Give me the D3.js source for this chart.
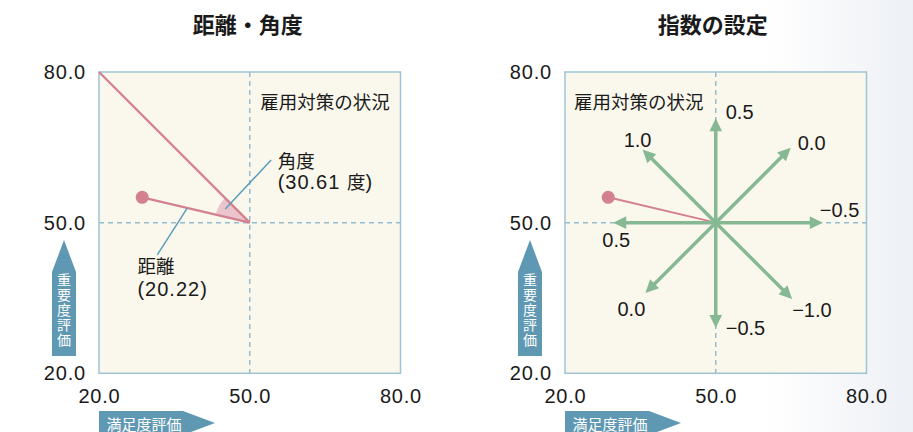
<!DOCTYPE html>
<html lang="ja"><head><meta charset="utf-8">
<script src="https://cdn.jsdelivr.net/npm/d3@7"></script>
<style>
html,body{margin:0;padding:0;}
body{width:913px;height:432px;overflow:hidden;background:linear-gradient(90deg,#ffffff 0%,#ffffff 84%,#edf0f5 100%);}
svg{display:block;}
</style></head><body>
<svg id="c" width="913" height="432"></svg>
<script>
// ---- data ----
const axisTicks = [20, 50, 80];
const tickLabels = ["20.0", "50.0", "80.0"];
const titles = ["距離・角度", "指数の設定"];
const caption = "雇用対策の状況";
const xAxisTitle = "満足度評価";
const yAxisTitle = "重要度評価";
const center = [50, 50];
const refPoint = [20, 80];
const itemPoint = [28.6, 55.05];
const distanceText = ["距離", "(20.22)"];
const angleText = ["角度", "(30.61 度)"];
// index arrows: direction (degrees, 0 = right, counter-clockwise), length in axis units, label
const arrowAngles = [90, 135, 45, 0, 180, 225, 270, 315];
const arrowLengths = [20.8, 20.6, 21.1, 21.3, 20.4, 19.8, 21.0, 21.5];
const arrowLabels = ["0.5", "1.0", "0.0", "−0.5", "0.5", "0.0", "−0.5", "−1.0"];

// ---- layout / style ----
const labelLayout = [ // pixel offsets from arrow tip, anchor
  {dx: 10, dy: 1, a: "start"}, {dx: -5, dy: -3, a: "middle"}, {dx: 7, dy: 2, a: "start"},
  {dx: -3, dy: -6, a: "start"}, {dx: 3, dy: 24, a: "middle"}, {dx: -14, dy: 23, a: "middle"},
  {dx: 10, dy: 7, a: "start"}, {dx: 0, dy: 18, a: "start"}
];
const C = {
  plotBg: "#faf8ec", border: "#9ec3d6", dash: "#93bccf", pink: "#d4818f", sector: "#ebc5cb",
  leader: "#5c9dbc", green: "#87b894", axisFill: "#5f98b3", text: "#1a1a1a"
};
const NUM_FONT = "'Liberation Sans', Arial, 'Noto Sans CJK JP', sans-serif";
const JP_FONT = "'Noto Sans CJK JP', 'Noto Sans CJK SC', sans-serif";
const panels = [
  {x0: 99, captionPos: [52.1, 72.6], titleDx: -2},
  {x0: 565, captionPos: [21.8, 72.6], titleDx: -3}
];
const PW = 301.5, PTOP = 72, PBOT = 373.3;
const svg = d3.select("#c");

// mixed text: latin runs at 20px (slightly spaced), CJK runs at 18.5px
function mixedText(sel, str) {
  const runs = str.match(/[\u3000-\u9fff\uff00-\uffef]+|[^\u3000-\u9fff\uff00-\uffef]+/g);
  runs.forEach(r => {
    const cjk = /[\u3000-\u9fff]/.test(r);
    sel.append("tspan").attr("font-family", cjk ? JP_FONT : NUM_FONT)
      .attr("font-size", cjk ? 18.5 : 20).attr("letter-spacing", cjk ? 0 : 1).text(r);
  });
}

panels.forEach((p, pi) => {
  const x = d3.scaleLinear().domain([20, 80]).range([p.x0, p.x0 + PW]);
  const y = d3.scaleLinear().domain([20, 80]).range([PBOT, PTOP]);
  const g = svg.append("g");

  // title
  g.append("text").attr("x", (x(20) + x(80)) / 2 + p.titleDx).attr("y", 33)
    .attr("text-anchor", "middle").attr("font-family", JP_FONT).attr("font-weight", "bold")
    .attr("font-size", 22).attr("fill", C.text).text(titles[pi]);

  // plot background
  g.append("rect").attr("x", x(20)).attr("y", y(80)).attr("width", x(80) - x(20))
    .attr("height", y(20) - y(80)).attr("fill", C.plotBg);

  // dashed center lines
  g.append("line").attr("x1", x(center[0])).attr("x2", x(center[0])).attr("y1", y(80)).attr("y2", y(20))
    .attr("stroke", C.dash).attr("stroke-width", 1.5).attr("stroke-dasharray", "5,4");
  g.append("line").attr("x1", x(20)).attr("x2", x(80)).attr("y1", y(center[1])).attr("y2", y(center[1]))
    .attr("stroke", C.dash).attr("stroke-width", 1.5).attr("stroke-dasharray", "5,4");

  // border
  g.append("rect").attr("x", x(20)).attr("y", y(80)).attr("width", x(80) - x(20))
    .attr("height", y(20) - y(80)).attr("fill", "none").attr("stroke", C.border).attr("stroke-width", 1.5);

  // y axis tick labels
  g.selectAll(".yt").data(axisTicks).join("text")
    .attr("x", x(20) - 13).attr("y", d => y(d) + 7).attr("text-anchor", "end")
    .attr("font-family", NUM_FONT).attr("font-size", 20).attr("letter-spacing", 0.8).attr("fill", C.text)
    .text((d, i) => tickLabels[i]);
  // x axis tick labels
  g.selectAll(".xt").data(axisTicks).join("text")
    .attr("x", d => x(d) + 0.5).attr("y", 403).attr("text-anchor", "middle")
    .attr("font-family", NUM_FONT).attr("font-size", 20).attr("letter-spacing", 0.8).attr("fill", C.text)
    .text((d, i) => tickLabels[i]);

  // x axis title arrow
  const ax0 = x(20), axTip = ax0 + 116, ayc = 423, ah = 12;
  g.append("path").attr("d", `M${ax0},${ayc - ah}H${axTip - 32}L${axTip},${ayc}L${axTip - 32},${ayc + ah}H${ax0}Z`)
    .attr("fill", C.axisFill);
  g.append("text").attr("x", ax0 + 7.5).attr("y", ayc).attr("dominant-baseline", "central")
    .attr("font-family", JP_FONT).attr("font-size", 15).attr("fill", "#fff").text(xAxisTitle);

  // y axis title arrow
  const yxc = x(20) - 35, yTip = 240, yBot = 356, yw = 12;
  g.append("path").attr("d", `M${yxc},${yTip}L${yxc + yw},${yTip + 32}V${yBot}H${yxc - yw}V${yTip + 32}Z`)
    .attr("fill", C.axisFill);
  g.append("text").attr("x", yxc).attr("y", 273)
    .style("writing-mode", "vertical-rl").attr("letter-spacing", 0.8)
    .attr("font-family", JP_FONT).attr("font-size", 14)
    .attr("fill", "#fff").text(yAxisTitle);

  // caption
  g.append("text").attr("x", x(p.captionPos[0])).attr("y", y(p.captionPos[1]))
    .attr("font-family", JP_FONT).attr("font-size", 18.5).attr("fill", C.text).text(caption);

  const cx = x(center[0]), cy = y(center[1]);
  const px = x(itemPoint[0]), py = y(itemPoint[1]);

  if (pi === 0) {
    const rx = x(refPoint[0]), ry = y(refPoint[1]);
    // angle sector
    const a1 = Math.atan2(px - cx, -(py - cy));
    const a2 = Math.atan2(rx - cx, -(ry - cy));
    const arc = d3.arc().innerRadius(0).outerRadius(35).startAngle(Math.min(a1, a2)).endAngle(Math.max(a1, a2));
    g.append("path").attr("transform", `translate(${cx},${cy})`).attr("d", arc()).attr("fill", C.sector);
    // lines
    g.append("line").attr("x1", rx).attr("y1", ry).attr("x2", cx).attr("y2", cy)
      .attr("stroke", C.pink).attr("stroke-width", 2.3);
    g.append("line").attr("x1", px).attr("y1", py).attr("x2", cx).attr("y2", cy)
      .attr("stroke", C.pink).attr("stroke-width", 2.3);
    g.append("circle").attr("cx", px).attr("cy", py).attr("r", 6.5).attr("fill", C.pink);

    // angle leader
    const bis = (a1 + a2) / 2;
    const sx = cx + 28 * Math.sin(bis), sy = cy - 28 * Math.cos(bis);
    g.append("line").attr("x1", sx).attr("y1", sy).attr("x2", x(54.26)).attr("y2", y(62.49))
      .attr("stroke", C.leader).attr("stroke-width", 1.5);
    // distance leader
    const f = 0.42;
    g.append("line").attr("x1", px + (cx - px) * f).attr("y1", py + (cy - py) * f)
      .attr("x2", x(31.6)).attr("y2", y(43.57)).attr("stroke", C.leader).attr("stroke-width", 1.5);

    // annotation texts
    angleText.forEach((t, i) => mixedText(g.append("text").attr("x", x(55.55)).attr("y", y(60.98) + i * 21)
      .attr("fill", C.text), t));
    distanceText.forEach((t, i) => mixedText(g.append("text").attr("x", x(27.65)).attr("y", y(39.92) + i * 23)
      .attr("fill", C.text), t));
  } else {
    // pink line (under arrows)
    g.append("line").attr("x1", px).attr("y1", py).attr("x2", cx).attr("y2", cy)
      .attr("stroke", C.pink).attr("stroke-width", 2);
    // index arrows
    const headL = 13, headW = 6.3;
    arrowAngles.forEach((ang, i) => {
      const r = ang * Math.PI / 180;
      const ex = x(center[0] + arrowLengths[i] * Math.cos(r));
      const ey = y(center[1] + arrowLengths[i] * Math.sin(r));
      const ux = Math.cos(r), uy = -Math.sin(r);
      const bx = ex - ux * headL, by = ey - uy * headL;
      g.append("line").attr("x1", cx).attr("y1", cy).attr("x2", bx + ux * 2).attr("y2", by + uy * 2)
        .attr("stroke", C.green).attr("stroke-width", 3.5);
      g.append("path").attr("d",
        `M${ex},${ey}L${bx - uy * headW},${by + ux * headW}L${bx + uy * headW},${by - ux * headW}Z`)
        .attr("fill", C.green);
      const L = labelLayout[i];
      g.append("text").attr("x", ex + L.dx).attr("y", ey + L.dy).attr("text-anchor", L.a)
        .attr("font-family", NUM_FONT).attr("font-size", 20).attr("fill", C.text).text(arrowLabels[i]);
    });
    g.append("circle").attr("cx", px).attr("cy", py).attr("r", 6.5).attr("fill", C.pink);
  }
});
</script>
</body></html>
